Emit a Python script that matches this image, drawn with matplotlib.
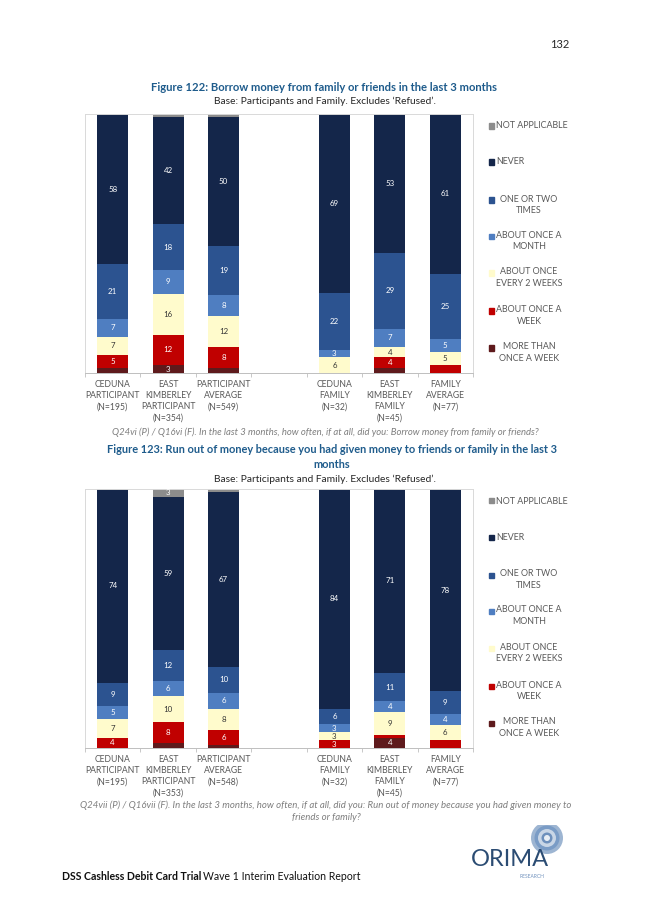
import numpy as np
import matplotlib
matplotlib.use("Agg")
from matplotlib import pyplot as plt
from matplotlib.patches import Rectangle, Circle

plt.rcParams['font.family'] = ['Lato', 'DejaVu Sans']

W, H = 653, 923  # 页面像素尺寸

# 图例 / 系列（自下而上）
series_names = ['MORE THAN\nONCE A WEEK', 'ABOUT ONCE A\nWEEK', 'ABOUT ONCE\nEVERY 2 WEEKS',
                'ABOUT ONCE A\nMONTH', 'ONE OR TWO\nTIMES', 'NEVER', 'NOT APPLICABLE']
series_colors = ['#5E1A1C', '#C00000', '#FFFBCC', '#4F7EC1', '#2C5390', '#14264A', '#8C8C8C']
label_colors = ['white', 'white', '#333333', 'white', 'white', 'white', 'white']

cats_122 = ['CEDUNA\nPARTICIPANT\n(N=195)', 'EAST\nKIMBERLEY\nPARTICIPANT\n(N=354)',
            'PARTICIPANT\nAVERAGE\n(N=549)', 'CEDUNA\nFAMILY\n(N=32)',
            'EAST\nKIMBERLEY\nFAMILY\n(N=45)', 'FAMILY\nAVERAGE\n(N=77)']
cats_123 = ['CEDUNA\nPARTICIPANT\n(N=195)', 'EAST\nKIMBERLEY\nPARTICIPANT\n(N=353)',
            'PARTICIPANT\nAVERAGE\n(N=548)', 'CEDUNA\nFAMILY\n(N=32)',
            'EAST\nKIMBERLEY\nFAMILY\n(N=45)', 'FAMILY\nAVERAGE\n(N=77)']

# Figure 122 数据
more_than_weekly_122 = [2, 3, 2, 0, 2, 0]
weekly_122 = [5, 12, 8, 0, 4, 3]
fortnightly_122 = [7, 16, 12, 6, 4, 5]
monthly_122 = [7, 9, 8, 3, 7, 5]
once_twice_122 = [21, 18, 19, 22, 29, 25]
never_122 = [58, 42, 50, 69, 53, 61]
na_122 = [0, 1, 1, 0, 0, 0]
hidden_122 = [(1, 5)]  # 没有标签的小段

# Figure 123 数据
more_than_weekly_123 = [0, 2, 1, 0, 4, 0]
weekly_123 = [4, 8, 6, 3, 1, 3]
fortnightly_123 = [7, 10, 8, 3, 9, 6]
monthly_123 = [5, 6, 6, 3, 4, 4]
once_twice_123 = [9, 12, 10, 6, 11, 9]
never_123 = [74, 59, 67, 84, 71, 78]
na_123 = [0, 3, 1, 0, 0, 0]
hidden_123 = [(1, 5)]

positions = [0, 1, 2, 4, 5, 6]

fig = plt.figure(figsize=(W / 100, H / 100), dpi=100)
fig.patch.set_facecolor('white')


def fx(x):
    return x / W


def fy(y):
    return 1 - y / H


def draw_chart(top, bottom, data, hidden, cats):
    ax = fig.add_axes([fx(85), fy(bottom), fx(473) - fx(85), fy(top) - fy(bottom)])
    data = np.array(data, dtype=float)
    totals = data.sum(axis=0)
    pct = data / totals * 100  # 100% 堆积
    base = np.zeros(len(positions))
    for i in range(len(data)):
        ax.bar(positions, pct[i], bottom=base, width=0.56, color=series_colors[i],
               edgecolor='none', zorder=2)
        for j in range(len(positions)):
            v = data[i][j]
            if v >= 3 and (i, j) not in hidden:
                ax.text(positions[j], base[j] + pct[i][j] / 2, '%d' % v, ha='center',
                        va='center', fontsize=5.7, color=label_colors[i], zorder=3)
        base = base + pct[i]
    ax.set_xlim(-0.5, 6.5)
    ax.set_ylim(0, 100)
    ax.set_yticks([])
    ax.set_xticks(positions)
    ax.set_xticklabels(cats, fontsize=6.2, color='#595959', linespacing=1.3)
    ax.set_xticks(np.arange(-0.5, 7, 1), minor=True)
    ax.tick_params(axis='x', which='major', length=0, pad=5)
    ax.tick_params(axis='x', which='minor', length=3, color='#BFBFBF', width=0.6)
    for s in ['top', 'left', 'right']:
        ax.spines[s].set_color('#D9D9D9')
        ax.spines[s].set_linewidth(0.7)
    ax.spines['bottom'].set_color('#BFBFBF')
    ax.spines['bottom'].set_linewidth(0.7)
    return ax


def draw_legend(offset):
    rows = [(126, 6), (162, 5), (200, 4), (236, 3), (273, 2), (311, 1), (348, 0)]
    for y, i in rows:
        y = y + offset
        fig.patches.append(Rectangle((fx(489), fy(y + 2.5)), 5 / W, 5 / H, color=series_colors[i],
                                     transform=fig.transFigure, figure=fig))
        name = series_names[i]
        if '\n' in name:
            fig.text(fx(529), fy(y - 5.5), name, ha='center', va='top', fontsize=6.4,
                     color='#595959', multialignment='center', linespacing=1.3)
        else:
            fig.text(fx(496), fy(y), name, ha='left', va='center', fontsize=6.4, color='#595959')


title_c = '#1F5C8C'
fig.text(fx(560), fy(45), '132', ha='center', va='center', fontsize=8, color='#262626')

fig.text(fx(324), fy(87), 'Figure 122: Borrow money from family or friends in the last 3 months',
         ha='center', va='center', fontsize=8.1, fontweight='bold', color=title_c)
fig.text(fx(325), fy(101), 'Base: Participants and Family. Excludes \u2018Refused\u2019.',
         ha='center', va='center', fontsize=7.4, color='#262626')

draw_chart(114, 373, [more_than_weekly_122, weekly_122, fortnightly_122, monthly_122,
                      once_twice_122, never_122, na_122], hidden_122, cats_122)
draw_legend(0)

fig.text(fx(325), fy(432), 'Q24vi (P) / Q16vi (F). In the last 3 months, how often, if at all, did you: '
         'Borrow money from family or friends?', ha='center', va='center', fontsize=6.8,
         style='italic', color='#7F7F7F')

fig.text(fx(332), fy(457), 'Figure 123: Run out of money because you had given money to friends or '
         'family in the last 3\nmonths', ha='center', va='center', fontsize=7.95, fontweight='bold',
         color=title_c, linespacing=1.45)
fig.text(fx(325), fy(479), 'Base: Participants and Family. Excludes \u2018Refused\u2019.',
         ha='center', va='center', fontsize=7.4, color='#262626')

draw_chart(489, 748, [more_than_weekly_123, weekly_123, fortnightly_123, monthly_123,
                      once_twice_123, never_123, na_123], hidden_123, cats_123)
draw_legend(375)

fig.text(fx(326), fy(811), 'Q24vii (P) / Q16vii (F). In the last 3 months, how often, if at all, did you: '
         'Run out of money because you had given money to\nfriends or family?', ha='center',
         va='center', fontsize=6.9, style='italic', color='#7F7F7F', linespacing=1.4)

# 页脚
t = fig.text(fx(62), fy(877), 'DSS Cashless Debit Card Trial', ha='left', va='center', fontsize=7.6,
             fontweight='bold', color='#111111')
fig.canvas.draw()
bb = t.get_window_extent()
fig.text(bb.x1 / W + 2 / W, fy(877), 'Wave 1 Interim Evaluation Report', ha='left', va='center',
         fontsize=7.6, color='#111111')

# ORIMA 标志
lax = fig.add_axes([fx(460), fy(885), 110 / W, 60 / H])
lax.set_xlim(0, 110)
lax.set_ylim(0, 60)
lax.set_aspect('equal')
lax.axis('off')
for r, c in [(16, '#9DB5D2'), (12.5, '#7A9CC6'), (9, '#C9D6E6'), (5.5, '#6E90BC'), (3, '#E8EEF5')]:
    lax.add_patch(Circle((87, 47), r, color=c, ec='none'))
lax.text(50, 25, 'ORIMA', ha='center', va='center', fontsize=17, color='#2B4C73')
lax.text(72, 8, 'RESEARCH', ha='center', va='center', fontsize=3.5, color='#6E90BC')

plt.savefig('out.png', dpi=100)
